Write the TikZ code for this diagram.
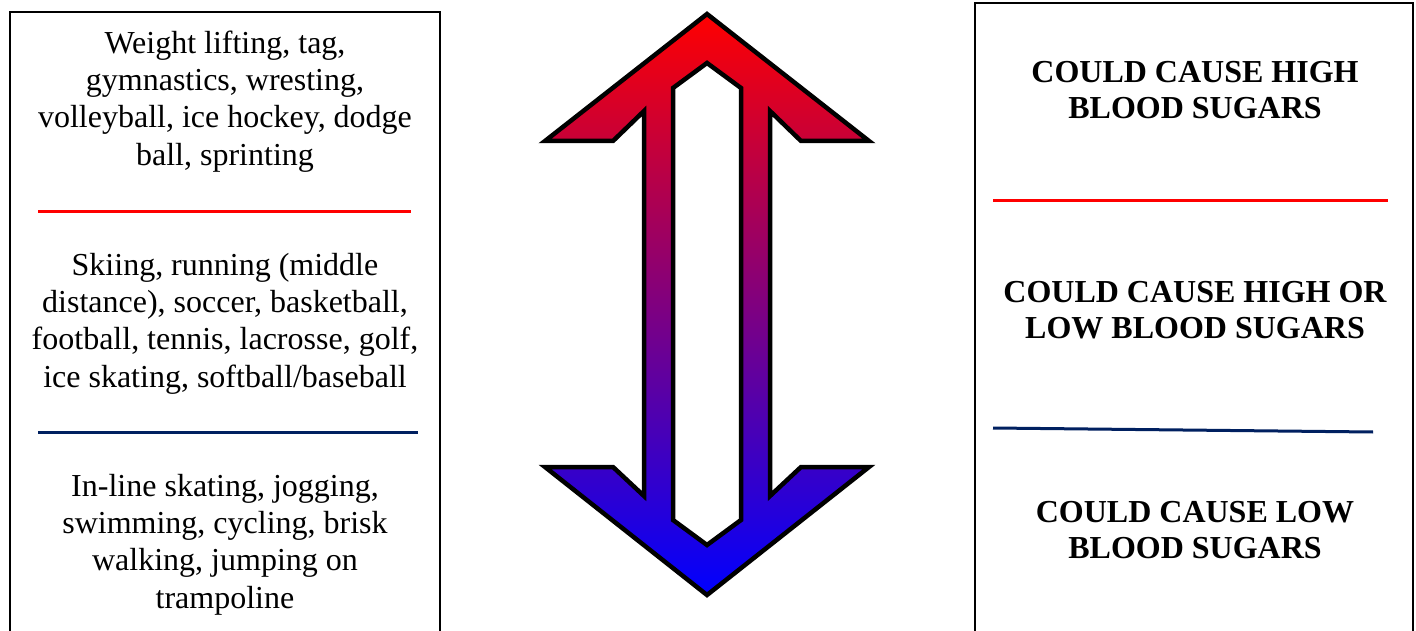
\documentclass[tikz,border=0pt]{standalone}
\usepackage{fontspec}
\setmainfont{Liberation Serif}
\definecolor{navyline}{RGB}{0,32,96}
\tikzset{
  boxframe/.style={draw=black, line width=1.5pt},
  redsep/.style={draw=red, line width=3pt},
  bluesep/.style={draw=navyline, line width=3pt},
  lefttext/.style={align=center, font=\fontsize{32}{37.3}\selectfont, inner sep=0pt},
  righttext/.style={align=center, font=\fontsize{32}{36}\selectfont\bfseries, inner sep=0pt},
  arrowbody/.style={draw=black, line width=4.5pt, line join=miter, top color=red, bottom color=blue},
  arrowhole/.style={draw=black, line width=4.5pt, line join=miter, fill=white}
}
\begin{document}
\begin{tikzpicture}[x=1pt, y=-1pt]
\useasboundingbox (0,0) rectangle (1416,631);
\clip (0,0) rectangle (1416,631);
\fill[white] (0,0) rectangle (1416,631);
% left box
\draw[boxframe] (10,660) -- (10,12) -- (440,12) -- (440,660);
\node[lefttext] (l1) at (225,101.5) {Weight lifting, tag,\\gymnastics, wresting,\\volleyball, ice hockey, dodge\\ball, sprinting};
\coordinate (lr1) at (38,212); \coordinate (lr2) at (411,212);
\draw[redsep] (lr1) -- (lr2);
\node[lefttext] (l2) at (225,323.5) {Skiing, running (middle\\distance), soccer, basketball,\\football, tennis, lacrosse, golf,\\ice skating, softball/baseball};
\coordinate (lb1) at (38,432); \coordinate (lb2) at (418,432);
\draw[bluesep] (lb1) -- (lb2);
\node[lefttext] (l3) at (225,544.5) {In-line skating, jogging,\\swimming, cycling, brisk\\walking, jumping on\\trampoline};
% right box
\draw[boxframe] (975,660) -- (975,3) -- (1413,3) -- (1413,660);
\node[righttext] (r1) at (1195,90) {COULD CAUSE HIGH\\BLOOD SUGARS};
\coordinate (rr1) at (993,201); \coordinate (rr2) at (1388,201);
\draw[redsep] (rr1) -- (rr2);
\node[righttext] (r2) at (1195,310.5) {COULD CAUSE HIGH OR\\LOW BLOOD SUGARS};
\coordinate (rb1) at (993,428); \coordinate (rb2) at (1373,432);
\draw[bluesep] (rb1) -- (rb2);
\node[righttext] (r3) at (1195,530) {COULD CAUSE LOW\\BLOOD SUGARS};
% double arrow
\path[arrowbody] (707,14) -- (869,141) -- (801,141) -- (770,111) -- (770,496) -- (801,467) -- (869,467)
  -- (707,595) -- (545,467) -- (613,467) -- (644,496) -- (644,111) -- (613,141) -- (545,141) -- cycle;
\path[arrowhole] (707,63) -- (741,88) -- (741,520) -- (707,545) -- (673,520) -- (673,88) -- cycle;
\end{tikzpicture}
\end{document}
